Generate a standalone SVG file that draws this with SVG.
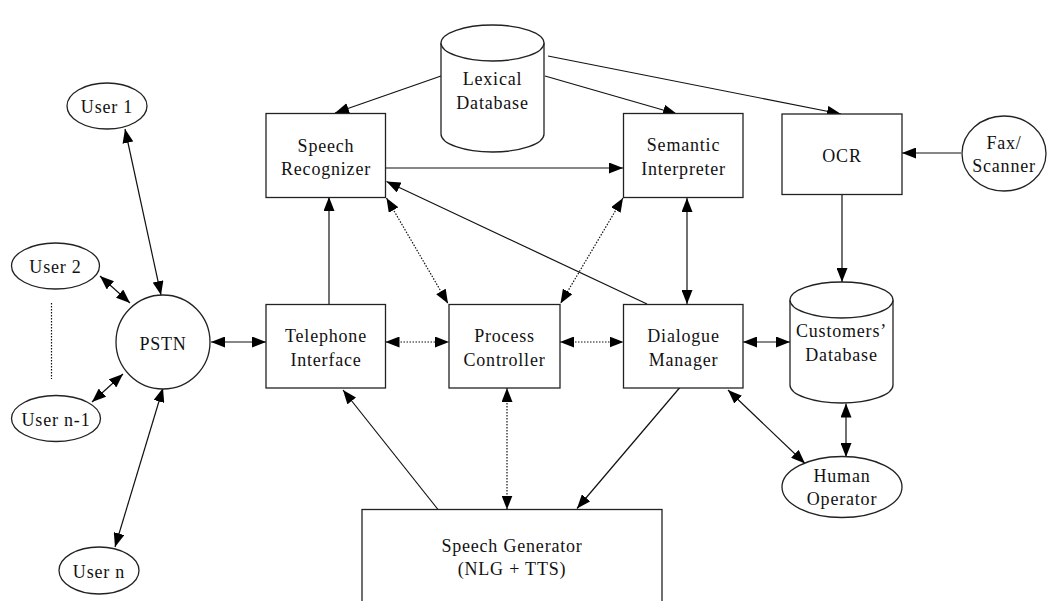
<svg xmlns="http://www.w3.org/2000/svg" width="1048" height="601" viewBox="0 0 1048 601">
<style>
.shape{fill:#fff;stroke:#222;stroke-width:1.3}
.lbl{font-family:"Liberation Serif","Times New Roman",serif;font-size:18px;letter-spacing:0.8px;fill:#111;text-anchor:middle}
.c{fill:none;stroke:#111;stroke-width:1.2}
.dot{stroke-dasharray:1.5,1.5}
</style>
<defs>
<marker id="ah" viewBox="0 0 14 11" refX="14" refY="5.5" markerWidth="14" markerHeight="11" markerUnits="userSpaceOnUse" orient="auto-start-reverse">
<path d="M0,0 L14,5.5 L0,11 z" fill="#000"/>
</marker>
</defs>
<rect width="1048" height="601" fill="#fff"/>

<g id="connectors">
<line class="c" x1="125" y1="129" x2="161" y2="295" marker-start="url(#ah)" marker-end="url(#ah)"/>
<line class="c" x1="100" y1="276" x2="130" y2="303" marker-start="url(#ah)" marker-end="url(#ah)"/>
<line class="c dot" x1="51.5" y1="303" x2="51.5" y2="379"/>
<line class="c" x1="92" y1="402" x2="123" y2="374" marker-start="url(#ah)" marker-end="url(#ah)"/>
<line class="c" x1="115" y1="547" x2="163" y2="388" marker-start="url(#ah)" marker-end="url(#ah)"/>
<line class="c" x1="211" y1="342" x2="266" y2="342" marker-start="url(#ah)" marker-end="url(#ah)"/>
<line class="c" x1="329" y1="304" x2="329" y2="197" marker-end="url(#ah)"/>
<line class="c" x1="385" y1="168" x2="623" y2="168" marker-end="url(#ah)"/>
<line class="c" x1="441" y1="76" x2="335" y2="113" marker-end="url(#ah)"/>
<line class="c" x1="545" y1="76" x2="677" y2="114" marker-end="url(#ah)"/>
<line class="c" x1="548" y1="56" x2="841" y2="114" marker-end="url(#ah)"/>
<line class="c" x1="961" y1="153" x2="902" y2="153" marker-end="url(#ah)"/>
<line class="c" x1="842" y1="194" x2="842" y2="282" marker-end="url(#ah)"/>
<line class="c" x1="647" y1="304" x2="386.5" y2="181.5" marker-end="url(#ah)"/>
<line class="c dot" x1="386.5" y1="198" x2="448" y2="303.5" marker-start="url(#ah)" marker-end="url(#ah)"/>
<line class="c dot" x1="623" y1="198" x2="560.5" y2="303.5" marker-start="url(#ah)" marker-end="url(#ah)"/>
<line class="c" x1="687" y1="198" x2="687" y2="304" marker-start="url(#ah)" marker-end="url(#ah)"/>
<line class="c dot" x1="385.5" y1="342" x2="449" y2="342" marker-start="url(#ah)" marker-end="url(#ah)"/>
<line class="c dot" x1="560" y1="342" x2="623.5" y2="342" marker-start="url(#ah)" marker-end="url(#ah)"/>
<line class="c" x1="743" y1="342" x2="790" y2="342" marker-start="url(#ah)" marker-end="url(#ah)"/>
<line class="c" x1="846" y1="403.5" x2="846" y2="457" marker-start="url(#ah)" marker-end="url(#ah)"/>
<line class="c" x1="728" y1="390" x2="805" y2="463.5" marker-start="url(#ah)" marker-end="url(#ah)"/>
<line class="c" x1="438" y1="509.5" x2="343" y2="390" marker-end="url(#ah)"/>
<line class="c dot" x1="507" y1="388" x2="507" y2="509.5" marker-start="url(#ah)" marker-end="url(#ah)"/>
<line class="c" x1="682" y1="385" x2="577" y2="508.5" marker-end="url(#ah)"/>
</g>

<g id="user1"><ellipse class="shape" cx="107" cy="106" rx="40" ry="23"/><text class="lbl" x="107" y="113">User 1</text></g>
<g id="user2"><ellipse class="shape" cx="55.5" cy="266" rx="44" ry="23"/><text class="lbl" x="55.5" y="273">User 2</text></g>
<g id="usern1"><ellipse class="shape" cx="56" cy="418.5" rx="44.5" ry="23"/><text class="lbl" x="56" y="425.5">User n-1</text></g>
<g id="usern"><ellipse class="shape" cx="99" cy="570.5" rx="40" ry="23.5"/><text class="lbl" x="99" y="577.5">User n</text></g>
<g id="pstn"><circle class="shape" cx="163" cy="342" r="47"/><text class="lbl" x="163" y="349.5">PSTN</text></g>

<g id="speech-recognizer"><rect class="shape" x="266" y="113.5" width="119.5" height="84"/><text class="lbl" x="326" y="151.5">Speech</text><text class="lbl" x="326" y="175">Recognizer</text></g>
<g id="lexical-db"><path class="shape" d="M441,43 L441,134 A51.5,18 0 0 0 544,134 L544,43"/><ellipse class="shape" cx="492.5" cy="43" rx="51.5" ry="18"/><text class="lbl" x="492.5" y="85">Lexical</text><text class="lbl" x="492.5" y="108.5">Database</text></g>
<g id="semantic-interpreter"><rect class="shape" x="623.5" y="113.5" width="119.5" height="84"/><text class="lbl" x="683.5" y="151">Semantic</text><text class="lbl" x="683.5" y="175">Interpreter</text></g>
<g id="ocr"><rect class="shape" x="782" y="114" width="120" height="80.5"/><text class="lbl" x="842" y="161.5">OCR</text></g>
<g id="fax"><ellipse class="shape" cx="1004" cy="153.5" rx="42" ry="37.5"/><text class="lbl" x="1004" y="149">Fax/</text><text class="lbl" x="1004" y="172">Scanner</text></g>

<g id="telephone-interface"><rect class="shape" x="266" y="304.5" width="119.5" height="83.5"/><text class="lbl" x="326" y="342">Telephone</text><text class="lbl" x="326" y="366">Interface</text></g>
<g id="process-controller"><rect class="shape" x="449" y="304.5" width="111" height="83.5"/><text class="lbl" x="504.5" y="342">Process</text><text class="lbl" x="504.5" y="366">Controller</text></g>
<g id="dialogue-manager"><rect class="shape" x="623.5" y="304.5" width="119.5" height="83.5"/><text class="lbl" x="683.5" y="342">Dialogue</text><text class="lbl" x="683.5" y="366">Manager</text></g>
<g id="customers-db"><path class="shape" d="M790,300 L790,385 A51.5,18 0 0 0 893,385 L893,300"/><ellipse class="shape" cx="841.5" cy="300" rx="51.5" ry="18"/><text class="lbl" x="841.5" y="337">Customers’</text><text class="lbl" x="841.5" y="361">Database</text></g>
<g id="human-operator"><ellipse class="shape" cx="842" cy="487" rx="60" ry="30.5"/><text class="lbl" x="842" y="482">Human</text><text class="lbl" x="842" y="505">Operator</text></g>

<g id="speech-generator"><rect class="shape" x="362" y="509.5" width="300" height="100"/><text class="lbl" x="512" y="552">Speech Generator</text><text class="lbl" x="512" y="575">(NLG + TTS)</text></g>
</svg>
